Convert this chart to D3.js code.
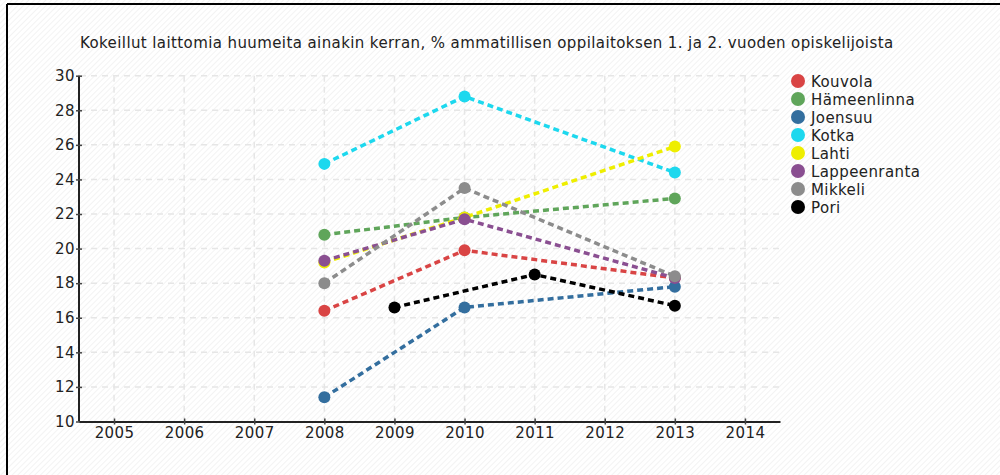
<!DOCTYPE html>
<html>
<head>
<meta charset="utf-8">
<script src="https://cdnjs.cloudflare.com/ajax/libs/d3/7.8.5/d3.min.js"></script>
<style>
  body { margin: 0; background: #fff; }
  text { font-family: "DejaVu Sans", Verdana, sans-serif; fill: #222; letter-spacing: 0.4px; }
</style>
</head>
<body>
<div id="chart"></div>
<script>
// DATA
var title = "Kokeillut laittomia huumeita ainakin kerran, % ammatillisen oppilaitoksen 1. ja 2. vuoden opiskelijoista";
var cities = ["Kouvola", "Hämeenlinna", "Joensuu", "Kotka", "Lahti", "Lappeenranta", "Mikkeli", "Pori"];
var cityColors = ["#d94444", "#5fa55a", "#336e9e", "#1dd8ee", "#eeee00", "#8a4f91", "#8c8c8c", "#000000"];
var years = [[2008, 2010, 2013], [2008, 2010, 2013], [2008, 2010, 2013], [2008, 2010, 2013],
             [2008, 2010, 2013], [2008, 2010, 2013], [2008, 2010, 2013], [2009, 2011, 2013]];
var values = [
  [16.4, 19.9, 18.3],
  [20.8, 21.8, 22.9],
  [11.4, 16.6, 17.8],
  [24.9, 28.8, 24.4],
  [19.2, 21.8, 25.9],
  [19.3, 21.7, 18.3],
  [18.0, 23.5, 18.4],
  [16.6, 18.5, 16.7]
];
var xTicks = [2005, 2006, 2007, 2008, 2009, 2010, 2011, 2012, 2013, 2014];
var yTicks = [10, 12, 14, 16, 18, 20, 22, 24, 26, 28, 30];

var width = 1000, height = 475;
var svg = d3.select("#chart").append("svg")
    .attr("width", width)
    .attr("height", height);

// hatched background
var defs = svg.append("defs");
var pat = defs.append("pattern")
    .attr("id", "hatch")
    .attr("patternUnits", "userSpaceOnUse")
    .attr("width", 4).attr("height", 4)
    .attr("patternTransform", "rotate(45)");
pat.append("rect").attr("width", 4).attr("height", 4).attr("fill", "#ffffff");
pat.append("line").attr("x1", 0).attr("y1", 0).attr("x2", 0).attr("y2", 4)
    .attr("stroke", "#ececec").attr("stroke-width", 1.2);

svg.append("rect").attr("width", width).attr("height", height).attr("fill", "url(#hatch)");

// frame (left + top)
svg.append("line").attr("x1", 7).attr("y1", 4).attr("x2", 7).attr("y2", height).attr("stroke", "#000").attr("stroke-width", 2);
svg.append("line").attr("x1", 7).attr("y1", 4).attr("x2", width).attr("y2", 4).attr("stroke", "#000").attr("stroke-width", 2);

var x = d3.scaleLinear().domain([2004.5, 2014.5]).range([79, 780]);
var y = d3.scaleLinear().domain([10, 30]).range([421.5, 75.7]);

svg.append("text")
    .attr("x", 80).attr("y", 47.5)
    .style("font-size", "15px")
    .text(title);

// grid
svg.append("g").selectAll("line").data(yTicks.slice(1)).enter().append("line")
    .attr("x1", 80).attr("x2", 780)
    .attr("y1", function(d){ return y(d); }).attr("y2", function(d){ return y(d); })
    .attr("stroke", "#e6e6e6").attr("stroke-width", 1.5).attr("stroke-dasharray", "6,5");
svg.append("g").selectAll("line").data(xTicks).enter().append("line")
    .attr("y1", y(30)).attr("y2", y(10))
    .attr("x1", function(d){ return x(d); }).attr("x2", function(d){ return x(d); })
    .attr("stroke", "#e6e6e6").attr("stroke-width", 1.5).attr("stroke-dasharray", "6,5");

// axes
var yAxis = svg.append("g")
    .attr("transform", "translate(79,0)")
    .call(d3.axisLeft(y).tickValues(yTicks).tickSize(4).tickPadding(3));
var xAxis = svg.append("g")
    .attr("transform", "translate(0," + y(10) + ")")
    .call(d3.axisBottom(x).tickValues(xTicks).tickFormat(d3.format("d")).tickSize(4).tickSizeOuter(0).tickPadding(2));
[xAxis, yAxis].forEach(function(a){
  a.select(".domain").attr("stroke", "#222").attr("stroke-width", 2);
  a.selectAll(".tick line").attr("stroke", "#444").attr("stroke-width", 1.5);
  a.selectAll("text").style("font-size", "15px").attr("fill", "#222")
      .style("font-family", "'DejaVu Sans', Verdana, sans-serif");
});
xAxis.selectAll(".tick line").attr("y1", -3).attr("y2", 3);
yAxis.selectAll(".tick line").attr("x1", -3).attr("x2", 3);
yAxis.selectAll("text").attr("x", -4);
yAxis.select(".domain").attr("d", "M0," + y(30) + "V" + y(10));

// lines
var line = d3.line()
    .x(function(d){ return x(d[0]); })
    .y(function(d){ return y(d[1]); });

cities.forEach(function(c, i){
  var pts = years[i].map(function(yr, j){ return [yr, values[i][j]]; });
  svg.append("path")
      .datum(pts)
      .attr("d", line)
      .attr("fill", "none")
      .attr("stroke", cityColors[i])
      .attr("stroke-width", 3.5)
      .attr("stroke-dasharray", "6,4");
});
cities.forEach(function(c, i){
  var pts = years[i].map(function(yr, j){ return [yr, values[i][j]]; });
  svg.append("g").selectAll("circle").data(pts).enter().append("circle")
      .attr("cx", function(d){ return x(d[0]); })
      .attr("cy", function(d){ return y(d[1]); })
      .attr("r", 6)
      .attr("fill", cityColors[i]);
});

// legend
var legend = svg.append("g").attr("transform", "translate(798,81)");
cities.forEach(function(c, i){
  var g = legend.append("g").attr("transform", "translate(0," + (i * 18) + ")");
  g.append("circle").attr("r", 7).attr("fill", cityColors[i]);
  g.append("text").attr("x", 13).attr("y", 5.5).style("font-size", "15px").text(c);
});
</script>
</body>
</html>
